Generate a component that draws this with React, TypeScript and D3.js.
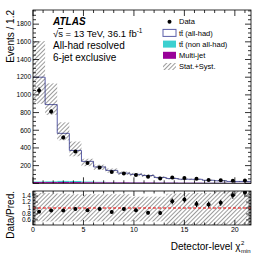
import React from "react";
import * as d3 from "d3";

// ---- data ----
const binWidth = 1.2;
const binEdges = d3.range(0, 19).map((i) => +(i * binWidth).toFixed(1));
const dataValues = [1050, 812, 518, 360, 229, 179, 127, 111, 93, 74, 55, 66, 59, 51, 38, 34, 30, 32];
const multiJet = [14, 14, 15, 14, 12, 11, 10, 10, 9, 9, 8, 8, 7, 7, 6, 6, 5, 5];
const ttNonAllHad = [6, 8, 12, 12, 8, 6, 5, 4, 4, 3, 3, 3, 2, 2, 2, 2, 1, 1];
const ttAllHad = [1180, 868, 538, 346, 228, 168, 131, 101, 88, 76, 55, 43, 37, 36, 26, 21, 15, 15];
const mainBandUp = [0.34, 0.27, 0.22, 0.27, 0.12, 0.14, 0.15, 0.16, 0.17, 0.18, 0.2, 0.2, 0.2, 0.2, 0.22, 0.22, 0.25, 0.25];
const mainBandDown = [0.25, 0.13, 0.14, 0.18, 0.22, 0.18, 0.18, 0.18, 0.2, 0.2, 0.2, 0.2, 0.22, 0.22, 0.22, 0.22, 0.25, 0.25];
const ratioBandUp = [0.5, 0.5, 0.48, 0.46, 0.46, 0.46, 0.46, 0.46, 0.38, 0.38, 0.38, 0.48, 0.5, 0.5, 0.5, 0.55, 0.7, 0.7];
const ratioBandDown = [0.45, 0.45, 0.45, 0.45, 0.45, 0.45, 0.45, 0.45, 0.45, 0.45, 0.45, 0.6, 0.6, 0.6, 0.6, 0.6, 0.6, 0.6];
const ratioErr = [0.03, 0.03, 0.04, 0.04, 0.05, 0.05, 0.05, 0.06, 0.06, 0.06, 0.07, 0.1, 0.1, 0.1, 0.1, 0.1, 0.12, 0.15];
const mainYTicks = [200, 400, 600, 800, 1000, 1200, 1400, 1600, 1800];
const ratioYTicks = [0.6, 0.8, 1, 1.2, 1.4];
const xTicks = [0, 5, 10, 15, 20];
const legendItems = [
  { key: "data", label: "Data" },
  { key: "allhad", label: "tt\u0304 (all-had)" },
  { key: "nonallhad", label: "tt\u0304 (non all-had)" },
  { key: "multijet", label: "Multi-jet" },
  { key: "band", label: "Stat.+Syst." },
];

const FONT = "'Liberation Sans', Arial, Helvetica, sans-serif";
const C_ALLHAD = "#5b5ea8";
const C_NONALL = "#3cd0d0";
const C_MJ = "#990099";

export default function App() {
  const W = 266, H = 258;
  const L = 33, R = 251, T = 10, B = 183.3;
  const RT = 191, RB = 225;
  const x = d3.scaleLinear().domain([0, 21.6]).range([L, R]);
  const y = d3.scaleLinear().domain([0, 1960]).range([B, T]);
  const yr = d3.scaleLinear().domain([0.43, 1.57]).range([RB, RT]);

  const n = dataValues.length;
  const total = d3.range(n).map((i) => multiJet[i] + ttNonAllHad[i] + ttAllHad[i]);
  const ratio = d3.range(n).map((i) => dataValues[i] / total[i]);

  let stepD = "";
  for (let i = 0; i < n; i++) {
    const x0 = x(binEdges[i]), x1 = x(binEdges[i + 1]), yy = y(total[i]);
    stepD += i === 0 ? `M${x0},${yy}` : `L${x0},${yy}`;
    stepD += `L${x1},${yy}`;
  }

  const ticks: JSX.Element[] = [];
  const tk = (x1: number, y1: number, x2: number, y2: number) =>
    ticks.push(<line key={ticks.length} x1={x1} y1={y1} x2={x2} y2={y2} stroke="#000" strokeWidth={0.8} />);

  d3.range(0, 22).forEach((v) => {
    const len = v % 5 === 0 ? 6 : 3;
    tk(x(v), B, x(v), B - len);
    tk(x(v), T, x(v), T + len);
    const lr = v % 5 === 0 ? 5 : 2.5;
    tk(x(v), RB, x(v), RB - lr);
    tk(x(v), RT, x(v), RT + lr);
  });
  d3.range(0, 1960, 50).forEach((v) => {
    const len = v % 200 === 0 ? 6 : 3;
    tk(L, y(v), L + len, y(v));
    tk(R, y(v), R - len, y(v));
  });
  d3.range(0.45, 1.57, 0.05).forEach((v) => {
    const vv = Math.round(v * 100) / 100;
    const major = Math.abs(Math.round(vv * 10) % 2) === 0 && Math.abs(vv * 10 - Math.round(vv * 10)) < 1e-6;
    const len = major ? 5 : 2.5;
    tk(L, yr(vv), L + len, yr(vv));
    tk(R, yr(vv), R - len, yr(vv));
  });

  const legX = 163, legTextX = 179, legY0 = 21.7, legDy = 11.2;

  return (
    <svg width={W} height={H} style={{ position: "absolute", left: 0, top: 0, background: "#fff" }} fontFamily={FONT}>
      <defs>
        <pattern id="hatch" patternUnits="userSpaceOnUse" width={3} height={3} patternTransform="rotate(45)">
          <line x1={0} y1={0} x2={0} y2={3} stroke="#222" strokeWidth={0.9} />
        </pattern>
        <clipPath id="clipMain"><rect x={L} y={T} width={R - L} height={B - T} /></clipPath>
        <clipPath id="clipRatio"><rect x={L} y={RT} width={R - L} height={RB - RT} /></clipPath>
      </defs>
      <rect x={0} y={0} width={W} height={H} fill="#fff" />

      <g clipPath="url(#clipMain)">
        {d3.range(n).map((i) => (
          <rect key={"na" + i} x={x(binEdges[i])} width={x(binEdges[i + 1]) - x(binEdges[i])}
            y={y(multiJet[i] + ttNonAllHad[i])} height={y(multiJet[i]) - y(multiJet[i] + ttNonAllHad[i])} fill={C_NONALL} />
        ))}
        {d3.range(n).map((i) => (
          <rect key={"mj" + i} x={x(binEdges[i])} width={x(binEdges[i + 1]) - x(binEdges[i])}
            y={y(multiJet[i])} height={y(0) - y(multiJet[i])} fill={C_MJ} />
        ))}
        <path d={stepD} fill="none" stroke={C_ALLHAD} strokeWidth={1} />
        {d3.range(n).map((i) => {
          const t = y(total[i] * (1 + mainBandUp[i]));
          const b = y(total[i] * (1 - mainBandDown[i]));
          return <rect key={"bd" + i} x={x(binEdges[i])} width={x(binEdges[i + 1]) - x(binEdges[i])} y={t} height={b - t} fill="url(#hatch)" />;
        })}
        {d3.range(n).map((i) => {
          const cx = x(binEdges[i] + binWidth / 2);
          const e = ratioErr[i] * total[i];
          return (
            <g key={"dp" + i}>
              <line x1={cx} x2={cx} y1={y(dataValues[i] + e)} y2={y(dataValues[i] - e)} stroke="#000" strokeWidth={1} />
              <circle cx={cx} cy={y(dataValues[i])} r={2} fill="#000" />
            </g>
          );
        })}
      </g>
      <rect x={L} y={T} width={R - L} height={B - T} fill="none" stroke="#000" strokeWidth={0.8} />

      <g clipPath="url(#clipRatio)">
        {d3.range(n).map((i) => {
          const t = yr(1 + ratioBandUp[i]);
          const b = yr(1 - ratioBandDown[i]);
          return <rect key={"rb" + i} x={x(binEdges[i])} width={x(binEdges[i + 1]) - x(binEdges[i])} y={t} height={b - t} fill="url(#hatch)" />;
        })}
        <line x1={L} x2={R} y1={yr(1)} y2={yr(1)} stroke="#e00" strokeWidth={1} strokeDasharray="3,2" />
        {d3.range(n).map((i) => {
          const cx = x(binEdges[i] + binWidth / 2);
          return (
            <g key={"rp" + i}>
              <line x1={cx} x2={cx} y1={yr(ratio[i] + ratioErr[i])} y2={yr(ratio[i] - ratioErr[i])} stroke="#000" strokeWidth={1} />
              <circle cx={cx} cy={yr(ratio[i])} r={2} fill="#000" />
            </g>
          );
        })}
      </g>
      <rect x={L} y={RT} width={R - L} height={RB - RT} fill="none" stroke="#000" strokeWidth={0.8} />
      {ticks}

      {mainYTicks.map((v) => (
        <text key={"my" + v} x={31} y={y(v) + 2.3} fontSize={6.5} textAnchor="end">{v}</text>
      ))}
      {ratioYTicks.map((v) => (
        <text key={"ry" + v} x={31} y={yr(v) + 2.3} fontSize={6.5} textAnchor="end">{v}</text>
      ))}
      {xTicks.map((v) => (
        <text key={"xt" + v} x={x(v)} y={232} fontSize={7} textAnchor="middle">{v}</text>
      ))}

      <text transform={`translate(13.5,${T}) rotate(-90)`} fontSize={10} textAnchor="end">Events / 1.2</text>
      <text transform={`translate(13.5,${RT}) rotate(-90)`} fontSize={10} textAnchor="end">Data/Pred.</text>
      <text x={240.5} y={250} fontSize={10} textAnchor="end">Detector-level χ</text>
      <text x={241} y={245} fontSize={6}>2</text>
      <text x={241} y={252.5} fontSize={6}>min</text>

      <text x={53} y={25} fontSize={10} fontWeight="bold" fontStyle="italic">ATLAS</text>
      <text x={53} y={37} fontSize={9.5}>
        √<tspan style={{ textDecoration: "overline" }}>s</tspan> = 13 TeV, 36.1 fb<tspan fontSize={6.5} dy={-4}>-1</tspan>
      </text>
      <text x={53} y={49} fontSize={10}>All-had resolved</text>
      <text x={53} y={61} fontSize={10}>6-jet exclusive</text>

      {legendItems.map((it, i) => {
        const cy = legY0 + i * legDy;
        let marker: JSX.Element | null = null;
        if (it.key === "data") marker = <circle cx={legX + 6.5} cy={cy} r={2} fill="#000" />;
        if (it.key === "allhad") marker = <rect x={legX} y={cy - 3.5} width={13} height={7} fill="#fff" stroke={C_ALLHAD} strokeWidth={1} />;
        if (it.key === "nonallhad") marker = <rect x={legX} y={cy - 3.5} width={13} height={7} fill={C_NONALL} />;
        if (it.key === "multijet") marker = <rect x={legX} y={cy - 3.5} width={13} height={7} fill={C_MJ} />;
        if (it.key === "band") marker = <rect x={legX} y={cy - 3.5} width={13} height={7} fill="url(#hatch)" />;
        return (
          <g key={it.key}>
            {marker}
            <text x={legTextX} y={cy + 2.7} fontSize={7.5}>{it.label}</text>
          </g>
        );
      })}
    </svg>
  );
}
